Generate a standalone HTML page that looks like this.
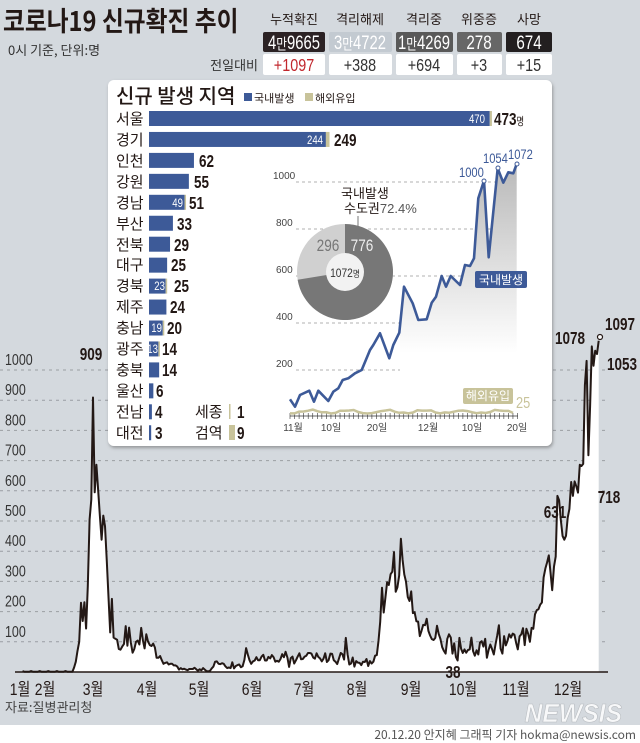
<!DOCTYPE html>
<html><head><meta charset="utf-8"><style>
html,body{margin:0;padding:0;background:#d4d9de;}
svg{display:block;}
text{font-family:"Liberation Sans","Noto Sans CJK KR",sans-serif;}
.k{font-family:"Noto Sans CJK KR","Liberation Sans",sans-serif;}
</style></head><body>
<svg id="s" width="640" height="743" viewBox="0 0 640 743" xmlns="http://www.w3.org/2000/svg">
<defs>
<linearGradient id="gg" x1="0" y1="0" x2="0" y2="1"><stop offset="0" stop-color="#b9b9b9"/><stop offset="0.75" stop-color="#ffffff"/></linearGradient>
<filter id="sh" x="-5%" y="-5%" width="110%" height="110%"><feDropShadow dx="1" dy="2" stdDeviation="1.5" flood-color="#555" flood-opacity="0.5"/></filter>
<clipPath id="cr"><rect x="400" y="140" width="200" height="300"/></clipPath>
</defs>
<rect width="640" height="743" fill="#d4d9de"/>
<rect x="0" y="725" width="640" height="18" fill="#fff"/>

<g id="grid" stroke="#9a9ea3" stroke-width="1" stroke-dasharray="3,4"></g>
<g id="ylab" font-size="16" fill="#333"></g>
<path id="mainfill" fill="#fff"/>
<path id="mainline" fill="none" stroke="#231815" stroke-width="2" stroke-linejoin="round"/>
<line x1="15" y1="672" x2="608" y2="672" stroke="#231815" stroke-width="1.5"/>
<circle cx="600" cy="337" r="2.5" fill="#fff" stroke="#231815" stroke-width="1.2"/>
<g font-size="17" fill="#231815" class="k">
<text x="20" y="695" text-anchor="middle" transform="translate(20 0) scale(0.82 1) translate(-20 0)">1월</text>
<text x="45" y="695" text-anchor="middle" transform="translate(45 0) scale(0.82 1) translate(-45 0)">2월</text>
<text x="93" y="695" text-anchor="middle" transform="translate(93 0) scale(0.82 1) translate(-93 0)">3월</text>
<text x="147" y="695" text-anchor="middle" transform="translate(147 0) scale(0.82 1) translate(-147 0)">4월</text>
<text x="199" y="695" text-anchor="middle" transform="translate(199 0) scale(0.82 1) translate(-199 0)">5월</text>
<text x="252" y="695" text-anchor="middle" transform="translate(252 0) scale(0.82 1) translate(-252 0)">6월</text>
<text x="304" y="695" text-anchor="middle" transform="translate(304 0) scale(0.82 1) translate(-304 0)">7월</text>
<text x="357" y="695" text-anchor="middle" transform="translate(357 0) scale(0.82 1) translate(-357 0)">8월</text>
<text x="411" y="695" text-anchor="middle" transform="translate(411 0) scale(0.82 1) translate(-411 0)">9월</text>
<text x="463" y="695" text-anchor="middle" transform="translate(463 0) scale(0.82 1) translate(-463 0)">10월</text>
<text x="516" y="695" text-anchor="middle" transform="translate(516 0) scale(0.82 1) translate(-516 0)">11월</text>
<text x="568" y="695" text-anchor="middle" transform="translate(568 0) scale(0.82 1) translate(-568 0)">12월</text>
</g>
<g font-size="18" font-weight="bold" fill="#231815">
<text x="91" y="360" text-anchor="middle" transform="translate(91 0) scale(0.75 1) translate(-91 0)">909</text>
<text x="453" y="678" text-anchor="middle" transform="translate(453 0) scale(0.75 1) translate(-453 0)">38</text>
<text x="555" y="518" text-anchor="middle" transform="translate(555 0) scale(0.75 1) translate(-555 0)">631</text>
<text x="609" y="503" text-anchor="middle" transform="translate(609 0) scale(0.75 1) translate(-609 0)">718</text>
<text x="570" y="344" text-anchor="middle" transform="translate(570 0) scale(0.75 1) translate(-570 0)">1078</text>
<text x="620" y="330" text-anchor="middle" transform="translate(620 0) scale(0.75 1) translate(-620 0)">1097</text>
<text x="622" y="370" text-anchor="middle" transform="translate(622 0) scale(0.75 1) translate(-622 0)">1053</text>
</g>
<text x="5" y="712" font-size="13" fill="#444" class="k">자료:질병관리청</text>
<text x="622" y="722" font-size="26" font-weight="bold" font-style="italic" fill="#fff" fill-opacity="0.8" stroke="#b8bcc0" stroke-width="0.6" text-anchor="end" transform="translate(622 0) scale(0.95 1) translate(-622 0)">NEWSIS</text>
<text x="636" y="739" font-size="12" fill="#555" text-anchor="end" class="k">20.12.20 안지혜 그래픽 기자 hokma@newsis.com</text>

<text x="3" y="31" font-size="27" fill="#231815" class="k" font-weight="bold" transform="translate(3 0) scale(0.88 1) translate(-3 0)">코로나19 신규확진 추이</text>
<text x="8" y="55" font-size="13" fill="#333" class="k">0시 기준, 단위:명</text>
<g font-size="13" fill="#231815" class="k" text-anchor="middle">
<text x="294" y="24">누적확진</text><text x="360" y="24">격리해제</text><text x="424" y="24">격리중</text><text x="479" y="24">위중증</text><text x="529" y="24">사망</text>
</g>
<rect x="263" y="32" width="62" height="20" rx="2" fill="#2b2224"/>
<rect x="329" y="32" width="63" height="20" rx="2" fill="#c3cad1"/>
<rect x="396" y="32" width="57" height="20" rx="2" fill="#595959"/>
<rect x="457" y="32" width="45" height="20" rx="2" fill="#676767"/>
<rect x="506" y="32" width="46" height="20" rx="2" fill="#231f20"/>
<g fill="#fff" font-size="19" text-anchor="middle">
<text x="294" y="49" transform="translate(294 0) scale(0.78 1) translate(-294 0)">4<tspan class="k" font-size="15">만</tspan>9665</text>
<text x="360" y="49" transform="translate(360 0) scale(0.78 1) translate(-360 0)">3<tspan class="k" font-size="15">만</tspan>4722</text>
<text x="424" y="49" transform="translate(424 0) scale(0.78 1) translate(-424 0)">1<tspan class="k" font-size="15">만</tspan>4269</text>
<text x="479" y="49" transform="translate(479 0) scale(0.8 1) translate(-479 0)">278</text>
<text x="529" y="49" transform="translate(529 0) scale(0.8 1) translate(-529 0)">674</text>
</g>
<g fill="#fff"><rect x="263" y="54" width="62" height="21" rx="2"/><rect x="329" y="54" width="63" height="21" rx="2"/><rect x="396" y="54" width="57" height="21" rx="2"/><rect x="457" y="54" width="45" height="21" rx="2"/><rect x="506" y="54" width="46" height="21" rx="2"/></g>
<text x="258" y="70" font-size="13" fill="#333" text-anchor="end" class="k">전일대비</text>
<g font-size="18" text-anchor="middle" fill="#333">
<text x="294" y="71" fill="#c1272d" transform="translate(294 0) scale(0.8 1) translate(-294 0)">+1097</text>
<text x="360" y="71" transform="translate(360 0) scale(0.8 1) translate(-360 0)">+388</text>
<text x="424" y="71" transform="translate(424 0) scale(0.8 1) translate(-424 0)">+694</text>
<text x="479" y="71" transform="translate(479 0) scale(0.8 1) translate(-479 0)">+3</text>
<text x="529" y="71" transform="translate(529 0) scale(0.8 1) translate(-529 0)">+15</text>
</g>

<rect x="108" y="80" width="444" height="366" rx="6" fill="#fff" filter="url(#sh)"/>
<text x="116" y="103" font-size="20" fill="#231815" class="k" font-weight="500">신규 발생 지역</text>
<rect x="244" y="93" width="8" height="8" fill="#3d5a98"/><text x="254" y="102" font-size="11" fill="#231815" class="k">국내발생</text>
<rect x="305" y="93" width="8" height="8" fill="#c8c39a"/><text x="315" y="102" font-size="11" fill="#231815" class="k">해외유입</text>
<g id="bars"></g>
<g font-size="15" fill="#231815" class="k">
<text x="116" y="124">서울</text><text x="116" y="145">경기</text><text x="116" y="166">인천</text><text x="116" y="187">강원</text><text x="116" y="208">경남</text><text x="116" y="229">부산</text><text x="116" y="250">전북</text><text x="116" y="270">대구</text><text x="116" y="291">경북</text><text x="116" y="312">제주</text><text x="116" y="333">충남</text><text x="116" y="354">광주</text><text x="116" y="375">충북</text><text x="116" y="396">울산</text><text x="116" y="417">전남</text><text x="116" y="438">대전</text>
<text x="195" y="417">세종</text><text x="195" y="438">검역</text>
</g>
<g font-size="18" font-weight="bold" fill="#231815">
<text x="494" y="125" transform="translate(494 0) scale(0.75 1) translate(-494 0)">473<tspan class="k" font-size="11" font-weight="normal">명</tspan></text>
<text x="334" y="146" transform="translate(334 0) scale(0.75 1) translate(-334 0)">249</text>
<text x="199" y="167" transform="translate(199 0) scale(0.75 1) translate(-199 0)">62</text>
<text x="194" y="188" transform="translate(194 0) scale(0.75 1) translate(-194 0)">55</text>
<text x="189" y="209" transform="translate(189 0) scale(0.75 1) translate(-189 0)">51</text>
<text x="177" y="230" transform="translate(177 0) scale(0.75 1) translate(-177 0)">33</text>
<text x="174" y="251" transform="translate(174 0) scale(0.75 1) translate(-174 0)">29</text>
<text x="171" y="271" transform="translate(171 0) scale(0.75 1) translate(-171 0)">25</text>
<text x="174" y="292" transform="translate(174 0) scale(0.75 1) translate(-174 0)">25</text>
<text x="170" y="313" transform="translate(170 0) scale(0.75 1) translate(-170 0)">24</text>
<text x="167" y="334" transform="translate(167 0) scale(0.75 1) translate(-167 0)">20</text>
<text x="162" y="355" transform="translate(162 0) scale(0.75 1) translate(-162 0)">14</text>
<text x="162" y="376" transform="translate(162 0) scale(0.75 1) translate(-162 0)">14</text>
<text x="156" y="397" transform="translate(156 0) scale(0.75 1) translate(-156 0)">6</text>
<text x="155" y="418" transform="translate(155 0) scale(0.75 1) translate(-155 0)">4</text>
<text x="155" y="439" transform="translate(155 0) scale(0.75 1) translate(-155 0)">3</text>
<text x="237" y="418" transform="translate(237 0) scale(0.75 1) translate(-237 0)">1</text>
<text x="237" y="439" transform="translate(237 0) scale(0.75 1) translate(-237 0)">9</text>
</g>
<g font-size="12" fill="#fff" text-anchor="end">
<text x="485" y="123" transform="translate(485 0) scale(0.8 1) translate(-485 0)">470</text>
<text x="323" y="144" transform="translate(323 0) scale(0.8 1) translate(-323 0)">244</text>
<text x="183" y="207" transform="translate(183 0) scale(0.8 1) translate(-183 0)">49</text>
<text x="165" y="290" transform="translate(165 0) scale(0.8 1) translate(-165 0)">23</text>
<text x="162" y="332" transform="translate(162 0) scale(0.8 1) translate(-162 0)">19</text>
<text x="158" y="353" transform="translate(158 0) scale(0.8 1) translate(-158 0)">13</text>
</g>
<rect x="229" y="404" width="1.5" height="15" fill="#c8c39a"/>
<rect x="229" y="425" width="6" height="15" fill="#c8c39a"/>

<g stroke="#999" stroke-width="0.8" stroke-dasharray="3,3">
<line x1="296" y1="182" x2="518" y2="182"/><line x1="296" y1="229" x2="518" y2="229"/><line x1="296" y1="276" x2="518" y2="276"/><line x1="296" y1="323" x2="518" y2="323"/><line x1="296" y1="370" x2="518" y2="370"/>
</g>
<g font-size="10" fill="#444">
<text x="273" y="179">1000</text><text x="276" y="226">800</text><text x="276" y="273">600</text><text x="276" y="320">400</text><text x="276" y="367">200</text>
</g>
<path id="infill" fill="url(#gg)" clip-path="url(#cr)"/>
<line x1="290" y1="416" x2="518" y2="416" stroke="#333" stroke-width="0.8"/>
<g id="ticks" stroke="#333" stroke-width="0.6"></g>
<path id="tan" fill="none" stroke="#c8c39a" stroke-width="2.5"/>
<path id="inline" fill="none" stroke="#3d5a98" stroke-width="2.6" stroke-linejoin="round"/>
<g fill="#fff" stroke="#3d5a98" stroke-width="1"><circle cx="484" cy="181" r="2"/><circle cx="498" cy="168" r="2"/><circle cx="517" cy="164" r="2"/></g>
<g font-size="14" fill="#3d5a98">
<text x="459" y="177" transform="translate(459 0) scale(0.8 1) translate(-459 0)">1000</text>
<text x="483" y="163" transform="translate(483 0) scale(0.8 1) translate(-483 0)">1054</text>
<text x="508" y="159" transform="translate(508 0) scale(0.8 1) translate(-508 0)">1072</text>
</g>
<rect x="475" y="271" width="52" height="17" rx="2" fill="#3d5a98"/>
<text x="501" y="284" font-size="12" fill="#fff" text-anchor="middle" class="k">국내발생</text>
<rect x="463" y="388" width="50" height="16" rx="2" fill="#c8c39a"/>
<text x="488" y="400" font-size="12" fill="#fff" text-anchor="middle" class="k">해외유입</text>
<text x="516" y="408" font-size="16" fill="#c8c39a" transform="translate(516 0) scale(0.8 1) translate(-516 0)">25</text>
<g font-size="10" fill="#444" text-anchor="middle" class="k">
<text x="293" y="431">11월</text><text x="331" y="431">10일</text><text x="377" y="431">20일</text><text x="428" y="431">12월</text><text x="472" y="431">10일</text><text x="517" y="431">20일</text>
</g>
<circle cx="345" cy="272" r="48" fill="#d0d0d0"/>
<path id="dark" fill="#777"/>
<circle cx="345" cy="272" r="19" fill="#f2f2f2"/>
<text x="345" y="277" font-size="12" fill="#333" text-anchor="middle" transform="translate(345 0) scale(0.85 1) translate(-345 0)">1072<tspan class="k" font-size="9">명</tspan></text>
<text x="328" y="251" font-size="17" fill="#777" text-anchor="middle" transform="translate(328 0) scale(0.8 1) translate(-328 0)">296</text>
<text x="362" y="251" font-size="17" fill="#eee" text-anchor="middle" transform="translate(362 0) scale(0.8 1) translate(-362 0)">776</text>
<line x1="358" y1="216" x2="358" y2="230" stroke="#777" stroke-width="1"/>
<text x="341" y="198" font-size="13" fill="#231815" class="k">국내발생</text>
<text x="344" y="213" font-size="13" fill="#231815" class="k">수도권<tspan font-family="Liberation Sans" fill="#555">72.4%</tspan></text>
</svg>
<script>
(function(){
var NS="http://www.w3.org/2000/svg";
function Y(v){return 672-0.302*v;}
var g=document.getElementById('grid'),yl=document.getElementById('ylab');
for(var i=1;i<=10;i++){var y=Y(i*100);
 var l=document.createElementNS(NS,'line');l.setAttribute('x1',0);l.setAttribute('x2',608);l.setAttribute('y1',y);l.setAttribute('y2',y);g.appendChild(l);
 var t=document.createElementNS(NS,'text');t.setAttribute('x',5);t.setAttribute('y',y-5);t.setAttribute('transform','translate(5 0) scale(0.78 1) translate(-5 0)');t.textContent=String(i*100);yl.appendChild(t);}
var v=[15,34,70,100,229,169,231,144,284,505,571,909,
595,686,600,516,438,518,483,367,248,131,242,114,110,107,76,74,84,93,152,87,147,98,64,76,100,104,91,146,105,78,125,
101,89,86,94,81,47,47,53,39,27,30,32,25,27,27,22,22,18,8,13,9,11,8,6,10,10,10,14,9,4,
9,6,13,8,3,2,4,12,18,34,35,27,26,29,27,19,13,15,13,32,12,20,23,25,16,19,40,79,58,39,27,
35,38,49,39,39,51,57,38,38,50,45,56,49,34,37,34,43,59,49,67,48,17,46,51,28,39,51,62,42,43,
51,54,63,63,61,48,44,62,50,45,35,44,62,33,39,61,60,39,34,26,45,63,59,41,113,58,25,28,48,18,36,
31,30,23,34,33,43,20,36,28,34,54,56,103,166,279,197,246,297,288,324,332,397,266,280,320,441,371,323,299,248,235,
267,195,198,168,167,119,136,156,155,176,136,121,109,106,113,153,126,110,82,70,61,110,125,114,61,95,50,38,113,77,
63,75,64,73,75,114,69,54,72,58,98,102,84,110,47,73,91,76,58,91,121,155,77,61,119,88,103,125,114,127,124,
97,75,118,125,145,89,143,126,100,146,143,191,205,208,223,230,313,343,363,386,330,271,349,382,583,569,504,450,438,451,
511,540,629,583,631,615,594,686,682,689,950,1030,718,880,1078,1014,1064,1053,1097];
var pts=[];
for(var d=20;d<=49;d++){pts.push([93+(d-61)*1.72,Y(d%5==0?3:1)]);}
for(var k=0;k<v.length;k++){var d=50+k;pts.push([93+(d-61)*1.72,Y(v[k])]);}
var s='M'+pts.map(function(p){return p[0].toFixed(1)+','+p[1].toFixed(1);}).join('L');
document.getElementById('mainline').setAttribute('d',s);
document.getElementById('mainfill').setAttribute('d',s+'L'+pts[pts.length-1][0].toFixed(1)+',672L'+pts[0][0].toFixed(1)+',672Z');
var bars=[[473,470],[249,244],[62,62],[55,55],[51,49],[33,33],[29,29],[25,25],[25,23],[24,24],[20,19],[14,13],[14,14],[6,6],[4,4],[3,3]];
var bg=document.getElementById('bars');
bars.forEach(function(b,i){var y=111+i*20.95;var tot=b[0]*0.725,dom=b[1]*0.725;
 var r=document.createElementNS(NS,'rect');r.setAttribute('x',149);r.setAttribute('y',y);r.setAttribute('width',Math.max(dom,2));r.setAttribute('height',15);r.setAttribute('fill','#3d5a98');bg.appendChild(r);
 if(b[0]>b[1]){var r2=document.createElementNS(NS,'rect');r2.setAttribute('x',149+dom);r2.setAttribute('y',y);r2.setAttribute('width',Math.max(tot-dom,1.5));r2.setAttribute('height',15);r2.setAttribute('fill','#c8c39a');bg.appendChild(r2);}
});
var z=[[90,778],[105,800],[120,765],[148,752],[162,785],[175,752],[205,783],[220,755],[235,745],[248,720],[265,715],[285,700],[305,690],[330,630],[340,615],[360,580],[388,655],[400,615],[418,578],[432,440],[458,490],[475,540],[500,538],[515,488],[528,470],[545,408],[558,440],[572,408],[600,435],[615,375],[630,378],[642,355],[655,175],[672,122],[686,352],[713,85],[730,128],[745,97],[760,100],[770,72]];
var ip=z.map(function(p){return [p[0]/3+260,p[1]/3+140];});
var is='M'+ip.map(function(p){return p[0].toFixed(1)+','+p[1].toFixed(1);}).join('L');
document.getElementById('inline').setAttribute('d',is);
document.getElementById('infill').setAttribute('d',is+'L'+ip[ip.length-1][0]+',416L'+ip[0][0]+',416Z');
var tp=[];for(var x=290;x<=517;x+=4.55){var yy=412-1.5*Math.sin(x/6)-(x%13<3?1:0);tp.push(x.toFixed(1)+','+yy.toFixed(1));}
document.getElementById('tan').setAttribute('d','M'+tp.join('L'));
var tk=document.getElementById('ticks');
for(var x=290;x<=518;x+=4.55){var l=document.createElementNS(NS,'line');l.setAttribute('x1',x);l.setAttribute('x2',x);l.setAttribute('y1',413);l.setAttribute('y2',419);tk.appendChild(l);}
var cx=345,cy=272,r=48,th=0.724*2*Math.PI;
var ex=cx+r*Math.sin(th),ey=cy-r*Math.cos(th);
document.getElementById('dark').setAttribute('d','M'+cx+','+cy+'L'+cx+','+(cy-r)+'A'+r+','+r+' 0 1 1 '+ex.toFixed(2)+','+ey.toFixed(2)+'Z');
})();
</script>
</body></html>
